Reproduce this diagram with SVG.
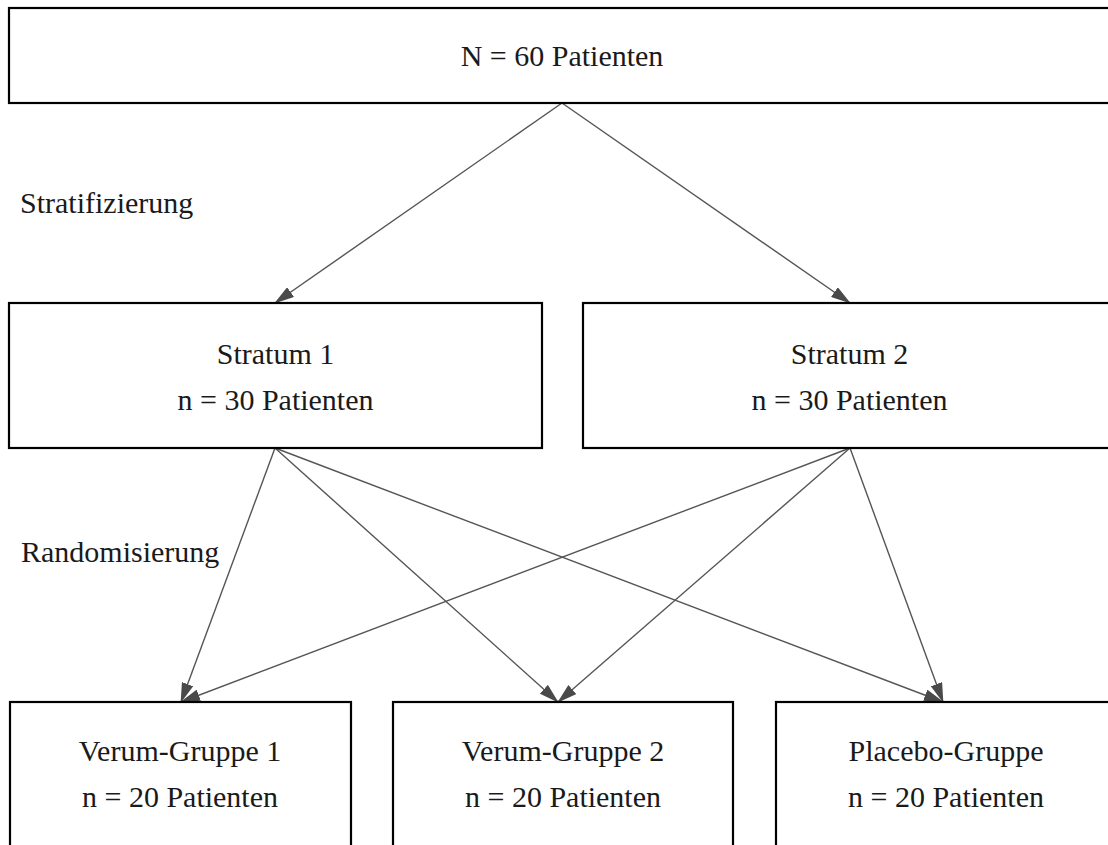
<svg xmlns="http://www.w3.org/2000/svg" width="1108" height="845" viewBox="0 0 1108 845">
  <style>
    .box { fill: #ffffff; stroke: #000000; stroke-width: 2.2; }
    text { font-family: 'Liberation Serif', 'DejaVu Serif', serif; font-size: 30px; fill: #1a1a1a; }
    .c { text-anchor: middle; }
    .edge { stroke: #555555; stroke-width: 1.4; fill: none; marker-end: url(#arr); }
  </style>
  <defs>
    <marker id="arr" viewBox="0 0 20 12" refX="19" refY="6" markerWidth="20" markerHeight="12" markerUnits="userSpaceOnUse" orient="auto">
      <path d="M0,0 L20,6 L0,12 z" fill="#4a4a4a"/>
    </marker>
  </defs>
  <rect width="1108" height="845" fill="#ffffff"/>

  <g id="connectors">
    <line class="edge" x1="562" y1="103" x2="275" y2="303"/>
    <line class="edge" x1="562" y1="103" x2="850" y2="303"/>
    <line class="edge" x1="275" y1="448" x2="181" y2="702"/>
    <line class="edge" x1="275" y1="448" x2="558" y2="702"/>
    <line class="edge" x1="275" y1="448" x2="943" y2="702"/>
    <line class="edge" x1="850" y1="448" x2="181" y2="702"/>
    <line class="edge" x1="850" y1="448" x2="558" y2="702"/>
    <line class="edge" x1="850" y1="448" x2="943" y2="702"/>
  </g>

  <g id="node-total" font-family="Liberation Serif, serif">
    <rect class="box" x="9" y="8" width="1106" height="95"/>
    <text class="c" x="562" y="66">N = 60 Patienten</text>
  </g>

  <g id="label-stratifizierung" font-family="Liberation Serif, serif">
    <text x="20" y="213">Stratifizierung</text>
  </g>

  <g id="node-stratum1" font-family="Liberation Serif, serif">
    <rect class="box" x="9" y="303" width="533" height="145"/>
    <text class="c" x="275.5" y="364">Stratum 1</text>
    <text class="c" x="275.5" y="410">n = 30 Patienten</text>
  </g>

  <g id="node-stratum2" font-family="Liberation Serif, serif">
    <rect class="box" x="583" y="303" width="533" height="145"/>
    <text class="c" x="849.5" y="364">Stratum 2</text>
    <text class="c" x="849.5" y="410">n = 30 Patienten</text>
  </g>

  <g id="label-randomisierung" font-family="Liberation Serif, serif">
    <text x="21" y="562">Randomisierung</text>
  </g>

  <g id="node-verum1" font-family="Liberation Serif, serif">
    <rect class="box" x="10" y="702" width="341" height="160"/>
    <text class="c" x="180" y="761">Verum-Gruppe 1</text>
    <text class="c" x="180" y="807">n = 20 Patienten</text>
  </g>

  <g id="node-verum2" font-family="Liberation Serif, serif">
    <rect class="box" x="393" y="702" width="340" height="160"/>
    <text class="c" x="563" y="761">Verum-Gruppe 2</text>
    <text class="c" x="563" y="807">n = 20 Patienten</text>
  </g>

  <g id="node-placebo" font-family="Liberation Serif, serif">
    <rect class="box" x="776" y="702" width="341" height="160"/>
    <text class="c" x="946" y="761">Placebo-Gruppe</text>
    <text class="c" x="946" y="807">n = 20 Patienten</text>
  </g>
</svg>
